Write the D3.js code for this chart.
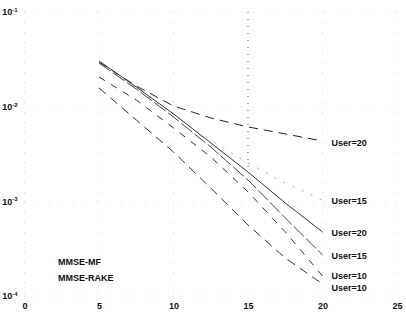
<!DOCTYPE html>
<html>
<head>
<meta charset="utf-8">
<script src="https://cdn.jsdelivr.net/npm/d3@7"></script>
<style>
  body { margin: 0; background: #fff; }
  svg text { font-family: "Liberation Sans", Arial, sans-serif; font-weight: bold; fill: #111; }
</style>
</head>
<body>
<svg></svg>
<script>
let width = 406
let height = 322

// SNR points (dB)
let snr = [5, 7.5, 10, 12.5, 15, 17.5, 20]

// bit error rates
let rake20 = [0.0296, 0.01655, 0.01017, 0.0076, 0.00611, 0.00515, 0.00434]
let rake15 = [0.0293, 0.01575, 0.00818, 0.00445, 0.00254, 0.00156, 0.00103]
let mf20 = [0.0304, 0.01614, 0.00838, 0.00414, 0.00204, 0.00096, 0.000475]
let mf15 = [0.0289, 0.01538, 0.00778, 0.00375, 0.00168, 0.000668, 0.000272]
let rake10 = [0.0206, 0.01177, 0.00596, 0.00294, 0.00126, 0.000475, 0.000163]
let mf10 = [0.01575, 0.00724, 0.00332, 0.00138, 0.000563, 0.000252, 0.000134]

let seriesNames = ['User=20', 'User=15', 'User=20', 'User=15', 'User=10', 'User=10']
let seriesValues = [rake20, rake15, mf20, mf15, rake10, mf10]

let xTicks = [0, 5, 10, 15, 20, 25]
let yTicks = [1e-4, 1e-3, 1e-2, 1e-1]
let yTickLabels = ['-4', '-3', '-2', '-1']
let legendNames = ['MMSE-MF', 'MMSE-RAKE']

// looks of each curve (scan made most of them look broken)
let dashes = ['9,6', '2,8', null, '14,3', '7,7', '9,6']
let strokes = ['#222', '#aaa', '#333', '#444', '#333', '#333']
// small vertical nudges so the two User=10 labels don't collide
let labelShift = [2, 1, 1, 1, 0, 4]

let svg = d3.select('svg')
    .attr('width', width)
    .attr('height', height)

let xScale = d3.scaleLinear()
    .domain([0, 25])
    .range([24.5, 397])

let yScale = d3.scaleLog()
    .domain([1e-4, 1e-1])
    .range([296, 12])

// faint dotted grid
svg.append('g')
    .selectAll('line')
    .data(xTicks)
    .enter()
    .append('line')
    .attr('x1', d => xScale(d))
    .attr('x2', d => xScale(d))
    .attr('y1', yScale(1e-1))
    .attr('y2', d => d === 15 ? yScale(2e-3) : yScale(1e-4))
    .attr('stroke', d => d === 15 ? '#555' : '#d4d4d4')
    .attr('stroke-width', 1)
    .attr('stroke-dasharray', d => d === 15 ? '1,6' : '1,9')

svg.append('g')
    .selectAll('line')
    .data(yTicks)
    .enter()
    .append('line')
    .attr('x1', xScale(0))
    .attr('x2', xScale(25))
    .attr('y1', d => yScale(d))
    .attr('y2', d => yScale(d))
    .attr('stroke', '#dcdcdc')
    .attr('stroke-dasharray', '1,11')

// axes
let xAxis = d3.axisBottom(xScale)
    .tickValues(xTicks)
    .tickSize(0)
    .tickPadding(7)
    .tickFormat(d3.format('d'))

svg.append('g')
    .attr('transform', 'translate(0,' + yScale(1e-4) + ')')
    .call(xAxis)
    .call(g => g.select('.domain').remove())
    .selectAll('text')
    .style('font-size', '9px')
    .style('font-family', '"Liberation Sans", Arial, sans-serif')
    .style('font-weight', 'bold')

let yAxis = d3.axisLeft(yScale)
    .tickValues(yTicks)
    .tickSize(0)
    .tickPadding(9)
    .tickFormat(() => '10')

let yG = svg.append('g')
    .attr('transform', 'translate(' + xScale(0) + ',0)')
    .call(yAxis)
    .call(g => g.select('.domain').remove())

yG.selectAll('text')
    .style('font-size', '9px')
    .style('font-family', '"Liberation Sans", Arial, sans-serif')
    .style('font-weight', 'bold')
    .attr('x', -7)
    .each(function (d, i) {
        d3.select(this)
            .append('tspan')
            .attr('dy', '-0.55em')
            .style('font-size', '6px')
            .text(yTickLabels[i])
    })

// curves
let line = d3.line()
    .x((d, i) => xScale(snr[i]))
    .y(d => yScale(d))

svg.append('g')
    .selectAll('path')
    .data(seriesValues)
    .enter()
    .append('path')
    .attr('d', d => line(d))
    .attr('fill', 'none')
    .attr('stroke', (d, i) => strokes[i])
    .attr('stroke-width', 1)
    .attr('stroke-dasharray', (d, i) => dashes[i])

// labels at curve ends
svg.append('g')
    .selectAll('text')
    .data(seriesValues)
    .enter()
    .append('text')
    .attr('x', xScale(20) + 9)
    .attr('y', (d, i) => yScale(d[d.length - 1]) + labelShift[i])
    .attr('dy', '0.35em')
    .style('font-size', '9px')
    .text((d, i) => seriesNames[i])

// legend (text only, line samples lost)
svg.append('g')
    .selectAll('text')
    .data(legendNames)
    .enter()
    .append('text')
    .attr('x', 58)
    .attr('y', (d, i) => 262 + i * 16)
    .attr('dy', '0.35em')
    .style('font-size', '9px')
    .text(d => d)
</script>
</body>
</html>
